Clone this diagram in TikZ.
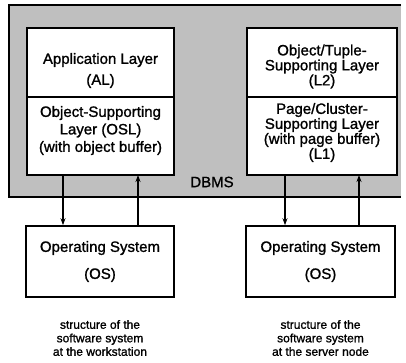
\documentclass[tikz,border=0pt]{standalone}
\usepackage{fontspec}
\setmainfont{Liberation Sans}[FakeBold=1.2]
\newfontfamily\heavyfont{Liberation Sans}[FakeBold=1.2,AutoFakeBold=1.2]
\usetikzlibrary{arrows.meta}
\begin{document}
\begin{tikzpicture}[x=1pt,y=-1pt,
  layerbox/.style={draw=black,line width=1.6pt,fill=white},
  boxtext/.style={align=center,inner sep=0pt,font=\heavyfont\bfseries\fontsize{15}{17.5}\selectfont},
  tighttext/.style={align=center,inner sep=0pt,font=\heavyfont\bfseries\fontsize{15}{15}\selectfont},
  captext/.style={align=center,inner sep=0pt,font=\heavyfont\bfseries\fontsize{12}{13.5}\selectfont},
  flow/.style={line width=1.5pt,-{Stealth[length=7pt,width=5pt]}}]
\useasboundingbox (0,0) rectangle (406,362);

% DBMS region
\fill[black!25] (9,5) rectangle (401,197);
\draw[line width=1.6pt] (401,5) -- (9,5) -- (9,197) -- (401,197);
\node[inner sep=0pt,font=\heavyfont\bfseries\fontsize{15}{17}\selectfont] (dbms) at (212,182) {DBMS};

% workstation side
\draw[layerbox] (27,28) rectangle (174,175);
\draw[line width=1.6pt] (27,97) -- (174,97);
\node[boxtext] (al) at (100.5,60) {Application Layer};
\node[boxtext] (al2) at (100.5,81) {(AL)};
\node[boxtext] (osl) at (100.5,130.5) {Object-Supporting\\Layer (OSL)\\(with object buffer)};
\coordinate (wsbot1) at (63,175);
\coordinate (wsbot2) at (138,175);

\node[draw,line width=1.6pt,minimum width=148pt,minimum height=71pt,inner sep=0pt] (os1) at (100,261.5) {};
\node[boxtext] (os1t) at (100,248) {Operating System};
\node[boxtext] (os1u) at (100,275) {(OS)};

% server side
\draw[layerbox] (247,28) rectangle (397,175);
\draw[line width=1.6pt] (247,97) -- (397,97);
\node[tighttext] (l2) at (322,66.5) {Object/Tuple-\\Supporting Layer\\(L2)};
\node[tighttext] (l1) at (322,132.5) {Page/Cluster-\\Supporting Layer\\(with page buffer)\\(L1)};
\coordinate (svbot1) at (285,175);
\coordinate (svbot2) at (359,175);

\node[draw,line width=1.6pt,minimum width=149pt,minimum height=71pt,inner sep=0pt] (os2) at (320.5,261.5) {};
\node[boxtext] (os2t) at (320.5,248) {Operating System};
\node[boxtext] (os2u) at (320.5,275) {(OS)};

% calls between DBMS layers and operating system
\draw[flow] (wsbot1) -- (wsbot1 |- os1.north);
\draw[flow] (wsbot2 |- os1.north) -- (wsbot2);
\draw[flow] (svbot1) -- (svbot1 |- os2.north);
\draw[flow] (svbot2 |- os2.north) -- (svbot2);

% captions
\node[captext] (cap1) at (100,338) {structure of the\\software system\\at the workstation};
\node[captext] (cap2) at (320.5,338) {structure of the\\software system\\at the server node};
\end{tikzpicture}
\end{document}
